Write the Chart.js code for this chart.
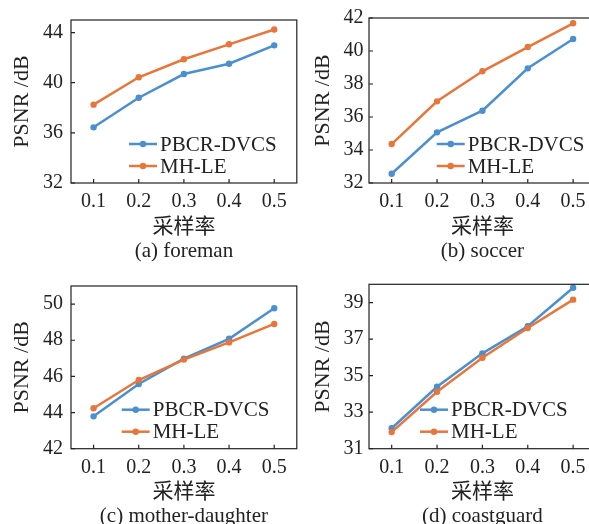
<!DOCTYPE html>
<html>
<head>
<meta charset="utf-8">
<script src="https://cdn.jsdelivr.net/npm/chart.js@4/dist/chart.umd.min.js"></script>
<style>
  body { margin: 0; width: 589px; height: 524px; overflow: hidden; background: #fff; position: relative; }
  canvas { position: absolute; }
</style>
</head>
<body>
<canvas id="foreman" width="300" height="265" style="left:0px;top:0px"></canvas>
<canvas id="soccer" width="302" height="265" style="left:297px;top:0px"></canvas>
<canvas id="mother" width="300" height="263" style="left:0px;top:266px"></canvas>
<canvas id="coast" width="302" height="263" style="left:297px;top:266px"></canvas>
<script>
// sampling rates (x axis)
var rates = [0.1, 0.2, 0.3, 0.4, 0.5];
var seriesNames = ['PBCR-DVCS', 'MH-LE'];

// PSNR values
var pbcrForeman = [36.44, 38.80, 40.69, 41.51, 42.98];
var mhleForeman = [38.25, 40.43, 41.87, 43.06, 44.24];

var pbcrSoccer = [32.56, 35.07, 36.38, 38.95, 40.73];
var mhleSoccer = [34.36, 36.95, 38.77, 40.24, 41.68];

var pbcrMother = [43.79, 45.58, 46.98, 48.08, 49.77];
var mhleMother = [44.24, 45.80, 46.93, 47.88, 48.90];

var pbcrCoast = [32.12, 34.39, 36.22, 37.70, 39.81];
var mhleCoast = [31.91, 34.12, 35.98, 37.61, 39.16];

// tick labels
var xTicks = [0.1, 0.2, 0.3, 0.4, 0.5];
var yTicksForeman = [32, 36, 40, 44];
var yTicksSoccer = [32, 34, 36, 38, 40, 42];
var yTicksMother = [42, 44, 46, 48, 50];
var yTicksCoast = [31, 33, 35, 37, 39];

var blue = '#4a8fd0';
var orange = '#e8763a';
var ink = '#222';
var serif = '"Liberation Serif", "Noto Sans CJK SC", serif';

Chart.defaults.font.family = serif;
Chart.defaults.font.size = 20;
Chart.defaults.color = ink;

// box around plot area + inward ticks
var boxAxes = {
  id: 'boxAxes',
  afterDatasetsDraw: function(chart) {
    var ctx = chart.ctx, a = chart.chartArea, x = chart.scales.x, y = chart.scales.y;
    ctx.save();
    ctx.strokeStyle = ink;
    ctx.lineWidth = 1.2;
    ctx.strokeRect(a.left, a.top, a.right - a.left, a.bottom - a.top);
    ctx.beginPath();
    x.ticks.forEach(function(t) {
      var px = x.getPixelForValue(t.value);
      ctx.moveTo(px, a.bottom);
      ctx.lineTo(px, a.bottom - 4);
    });
    y.ticks.forEach(function(t) {
      var py = y.getPixelForValue(t.value);
      ctx.moveTo(a.left, py);
      ctx.lineTo(a.left + 4, py);
    });
    ctx.stroke();
    ctx.restore();
  }
};

// legend drawn inside the plot area
var insideLegend = {
  id: 'insideLegend',
  afterDatasetsDraw: function(chart, args, opts) {
    var ctx = chart.ctx, a = chart.chartArea;
    var lx = a.left + opts.x;
    ctx.save();
    ctx.font = '21px ' + serif;
    ctx.textBaseline = 'middle';
    ctx.textAlign = 'left';
    chart.data.datasets.forEach(function(ds, i) {
      var ly = a.bottom - opts.rows[i];
      ctx.strokeStyle = ds.borderColor;
      ctx.lineWidth = 2.5;
      ctx.beginPath();
      ctx.moveTo(lx, ly);
      ctx.lineTo(lx + 28, ly);
      ctx.stroke();
      ctx.fillStyle = ds.borderColor;
      ctx.beginPath();
      ctx.arc(lx + 14, ly, 3.2, 0, Math.PI * 2);
      ctx.fill();
      ctx.fillStyle = ink;
      ctx.fillText(ds.label, lx + 31, ly + 1);
    });
    ctx.restore();
  }
};

function pts(vals) {
  return rates.map(function(r, i) { return {x: r, y: vals[i]}; });
}

function makePanel(id, pbcr, mhle, yTicks, yMin, yMax, caption, L) {
  new Chart(document.getElementById(id), {
    type: 'line',
    data: {
      datasets: [
        { label: seriesNames[0], data: pts(pbcr), borderColor: blue, backgroundColor: blue, order: 1 },
        { label: seriesNames[1], data: pts(mhle), borderColor: orange, backgroundColor: orange, order: 0 }
      ]
    },
    options: {
      responsive: false,
      animation: false,
      clip: false,
      layout: { padding: { top: L.top, right: L.right, left: 0, bottom: 0 } },
      elements: {
        line: { borderWidth: 2.5, tension: 0 },
        point: { radius: 3.2, borderWidth: 0, hoverRadius: 3.2 }
      },
      scales: {
        x: {
          type: 'linear', min: 0.05, max: 0.55,
          grid: { display: false, drawTicks: false },
          border: { display: false },
          afterBuildTicks: function(s) { s.ticks = xTicks.map(function(v) { return {value: v}; }); },
          afterFit: function(s) { s.height = L.xh; },
          ticks: { padding: 7, color: ink, callback: function(v) { return v.toFixed(1); } },
          title: { display: true, text: ['采样率', caption], color: ink,
                   font: { size: 21, lineHeight: 1.15 }, padding: { top: 0, bottom: L.tb } }
        },
        y: {
          min: yMin, max: yMax,
          grid: { display: false, drawTicks: false },
          border: { display: false },
          afterBuildTicks: function(s) { s.ticks = yTicks.map(function(v) { return {value: v}; }); },
          afterFit: function(s) { s.width = L.yw; },
          ticks: { padding: L.yp, color: ink },
          title: { display: true, text: 'PSNR /dB', color: ink,
                   font: { size: 22, lineHeight: 1.2 }, padding: { top: L.yt, bottom: 0 } }
        }
      },
      plugins: {
        legend: { display: false },
        tooltip: { enabled: false },
        insideLegend: { x: L.lx, rows: [39, 17] }
      }
    },
    plugins: [boxAxes, insideLegend]
  });
}

makePanel('foreman', pbcrForeman, mhleForeman, yTicksForeman, 32, 45, '(a) foreman',
  { top: 18, right: 3, xh: 82, yw: 71, yp: 8, yt: 8.8, tb: 1, lx: 58 });
makePanel('soccer', pbcrSoccer, mhleSoccer, yTicksSoccer, 32, 42, '(b) soccer',
  { top: 18, right: 3, xh: 82, yw: 72, yp: 5.5, yt: 12.8, tb: 1, lx: 67.7 });
makePanel('mother', pbcrMother, mhleMother, yTicksMother, 42, 51, '(c) mother-daughter',
  { top: 18.3, right: 3, xh: 80.3, yw: 71, yp: 8, yt: 8.8, tb: 0, lx: 50.7 });
makePanel('coast', pbcrCoast, mhleCoast, yTicksCoast, 31, 40, '(d) coastguard',
  { top: 18.3, right: 3, xh: 80.3, yw: 72, yp: 5.5, yt: 12.8, tb: 0, lx: 51 });
</script>
</body>
</html>
